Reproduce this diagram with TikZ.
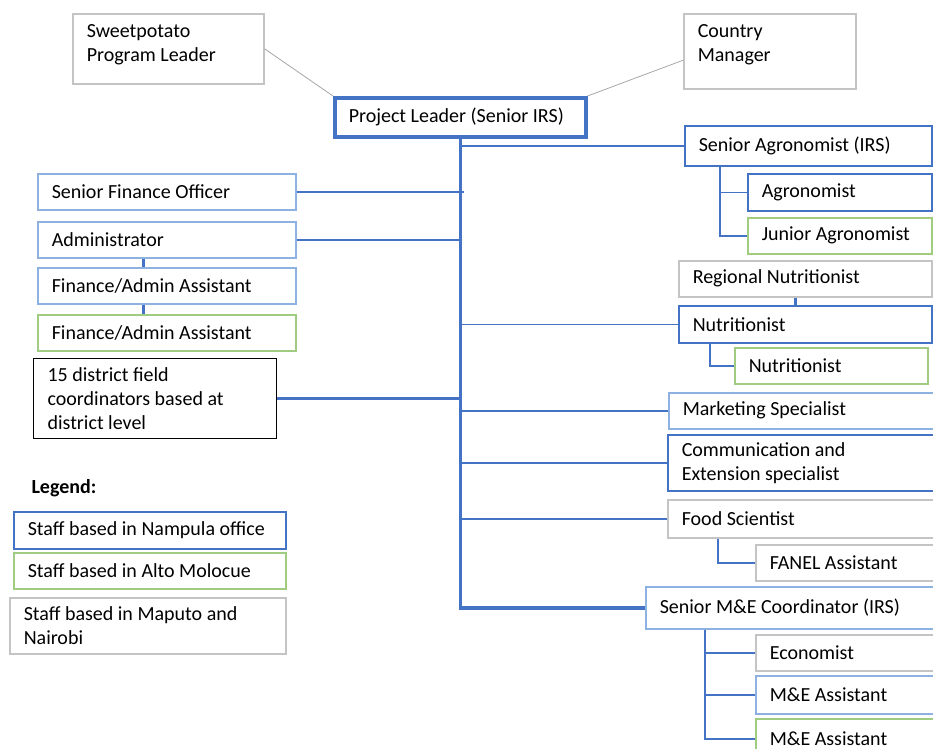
\documentclass[tikz,border=0pt]{standalone}
\usepackage{fontspec}
\setmainfont{Carlito}
\definecolor{nampula}{RGB}{68,114,196}
\definecolor{nampulalt}{RGB}{141,178,226}
\definecolor{alto}{RGB}{112,173,71}
\definecolor{altolt}{RGB}{160,204,130}
\definecolor{maputo}{RGB}{196,196,196}
\usetikzlibrary{positioning}
\tikzset{
  staff/.style={rectangle, anchor=north west, inner xsep=14pt, inner ysep=0pt,
    align=flush left, font=\fontsize{20}{24}\selectfont,
    execute at begin node={\spaceskip=0pt\xspaceskip=0pt\hyphenpenalty=10000}},
  nampulabox/.style={staff, draw=nampula, line width=1.5pt},
  nampulalight/.style={staff, draw=nampulalt, line width=1.5pt},
  altobox/.style={staff, draw=altolt, line width=1.5pt},
  maputobox/.style={staff, draw=maputo, line width=1.5pt},
  fieldbox/.style={staff, draw=black, line width=1.2pt},
  leadbox/.style={staff, draw=nampula, line width=3.5pt},
  trunk/.style={draw=nampula, line width=3.5pt},
  branch/.style={draw=nampula, line width=1.5pt},
  link/.style={draw=nampula, line width=3pt},
  report/.style={draw=maputo!85!black, line width=0.8pt},
}
\begin{document}
\begin{tikzpicture}[x=1pt, y=-1pt]
\useasboundingbox (0,0) rectangle (933,748);

\foreach \name/\x/\y/\w/\h/\kind/\txt in {
  sppl/72/13/191/70/maputobox/{Sweetpotato\\Program Leader\rule[-12pt]{0pt}{1pt}},
  cman/683/13/172/75/maputobox/{Country\\Manager\rule[-16pt]{0pt}{1pt}},
  lead/333/96/251/39/leadbox/{Project Leader (Senior IRS)},
  sfo/37/173/258/36/nampulalight/{Senior Finance Officer},
  admin/37/221/258/36/nampulalight/{Administrator},
  faa/37/267/258/36/nampulalight/{Finance{/}Admin Assistant},
  faa2/37/314/258/36/altobox/{Finance{/}Admin Assistant},
  field/33/358/243/80/fieldbox/{15 district field\\coordinators based at\\district level},
  lgn/13/511/272/37/nampulabox/{Staff based in Nampula office},
  lga/13/552/272/36/altobox/{Staff based in Alto Molocue},
  lgm/9/597/276/56/maputobox/{Staff based in Maputo and\\Nairobi},
  sagro/684/125/247/40/nampulabox/{Senior Agronomist (IRS)},
  agro/747/173/184/37/nampulabox/{Agronomist},
  jagro/747/217/184/36/altobox/{Junior Agronomist},
  rnut/678/260/253/36/maputobox/{Regional Nutritionist},
  nut/678/305/253/37/nampulabox/{Nutritionist},
  nut2/734/347/193/36/altobox/{Nutritionist},
  mkt/668/392/272/36/nampulalight/{Marketing Specialist},
  comm/667/434/273/56/nampulabox/{Communication and\\Extension specialist},
  food/667/499/273/38/maputobox/{Food Scientist},
  fanel/755/544/185/36/maputobox/{FANEL Assistant},
  mecoord/645/586/295/42/nampulalight/{Senior M\&E Coordinator (IRS)},
  econ/755/634/185/36/maputobox/{Economist},
  mea/755/675/185/38/nampulalight/{M\&E Assistant},
  mea2/755/718/185/40/altobox/{M\&E Assistant}
}{
  \pgfmathsetmacro\tw{\w-28}
  \node[\kind, minimum width=\w pt, minimum height=\h pt, text width=\tw pt]
    (\name) at (\x,\y) {\txt};
}

\node[font=\fontsize{20}{24}\selectfont\bfseries, anchor=base west]
  (legend) at (28,493) {Legend:};

% reporting lines
\draw[report] (sppl.east) -- (lead.north west);
\draw[report] ([yshift=-9pt]cman.west) -- (lead.north east);

% main trunk
\draw[trunk] (lead.south) |- (mecoord.west);

% branches to the right
\foreach \n in {sagro, nut, mkt, comm, food}
  \draw[branch] (lead.south |- \n.west) -- (\n.west);

% branches to the left
\draw[branch] (sfo.east) -- (lead.south |- sfo.east) -- ++(4,0);
\draw[branch] (admin.east) -- (lead.south |- admin.east);
\draw[link, line width=2.5pt] (field.east) -- (lead.south |- field.east);

% vertical links
\draw[link] ([xshift=106pt]admin.south west) -- ([xshift=106pt]faa.north west);
\draw[link] ([xshift=106pt]faa.south west) -- ([xshift=106pt]faa2.north west);
\draw[link] ([xshift=117pt]rnut.south west) -- ([xshift=117pt]nut.north west);

% sub-branches
\foreach \n in {agro, jagro}
  \draw[branch] ([xshift=36pt]sagro.south west) |- (\n.west);
\draw[branch] ([xshift=32pt]nut.south west) |- (nut2.west);
\draw[branch] ([xshift=51pt]food.south west) |- (fanel.west);
\foreach \n in {econ, mea, mea2}
  \draw[branch] ([xshift=60pt]mecoord.south west) |- (\n.west);
\end{tikzpicture}
\end{document}
